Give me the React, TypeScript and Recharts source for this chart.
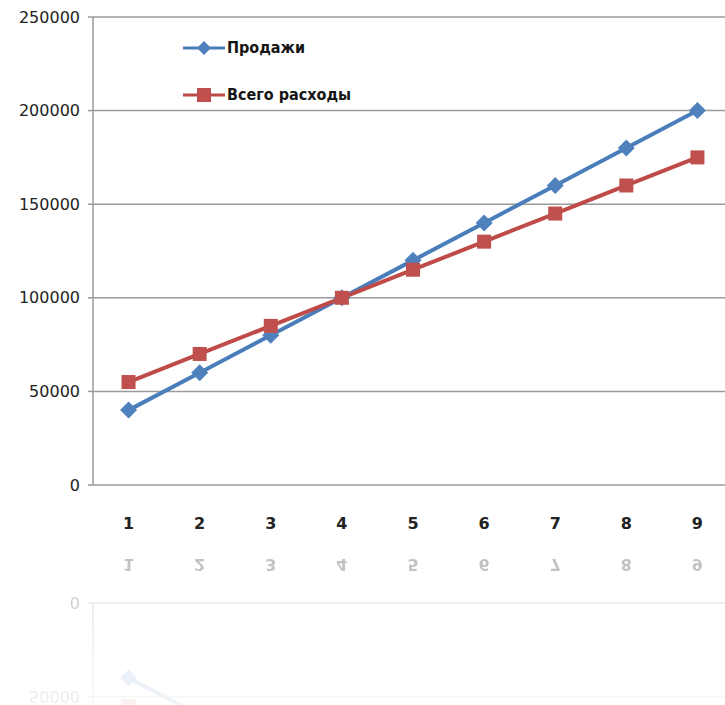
import React from "react";
import { LineChart, Line, XAxis, YAxis, CartesianGrid, Legend } from "recharts";

const categories = [1, 2, 3, 4, 5, 6, 7, 8, 9];
const salesValues = [40000, 60000, 80000, 100000, 120000, 140000, 160000, 180000, 200000];
const expenseValues = [55000, 70000, 85000, 100000, 115000, 130000, 145000, 160000, 175000];
const yTicks = [0, 50000, 100000, 150000, 200000, 250000];
const boundaryTicks = [0.5, 1.5, 2.5, 3.5, 4.5, 5.5, 6.5, 7.5, 8.5, 9.5];
const seriesNames = { sales: "Продажи", expenses: "Всего расходы" };
const legendOrder = ["sales", "expenses"];

const BLUE = "#4a7ebb";
const RED = "#be4b48";
const GRID = "#9a9a9a";

const data = categories.map((c, i) => ({
  x: c,
  sales: salesValues[i],
  expenses: expenseValues[i],
}));

const diamondPoints = (cx: number, cy: number, r: number) =>
  `${cx},${cy - r} ${cx + r},${cy} ${cx},${cy + r} ${cx - r},${cy}`;

const DiamondDot = (props: any) => {
  const { cx, cy, index } = props;
  if (cx == null || cy == null) return <g key={`dd-${index}`} />;
  return <polygon key={`dd-${index}`} points={diamondPoints(cx, cy, 8.5)} fill="#4f81bd" />;
};

const SquareDot = (props: any) => {
  const { cx, cy, index } = props;
  if (cx == null || cy == null) return <g key={`sd-${index}`} />;
  return <rect key={`sd-${index}`} x={cx - 7} y={cy - 7} width={14} height={14} fill="#c0504d" />;
};

const LegendContent = (props: any) => {
  const { payload } = props;
  if (!payload) return null;
  const items = legendOrder
    .map((k) => payload.find((p: any) => p.dataKey === k))
    .filter(Boolean);
  return (
    <div>
      {items.map((p: any) => (
        <div
          key={p.dataKey}
          style={{ display: "flex", alignItems: "center", height: 47 }}
        >
          <svg width={42} height={18} style={{ marginRight: 2 }}>
            <line x1={0} x2={42} y1={9} y2={9} stroke={p.color} strokeWidth={3} />
            {p.dataKey === "sales" ? (
              <polygon points={diamondPoints(21, 9, 7)} fill="#4f81bd" />
            ) : (
              <rect x={14} y={2} width={14} height={14} fill="#c0504d" />
            )}
          </svg>
          <span style={{ fontSize: 16, fontWeight: "bold", color: "#151515", fontFamily: "'DejaVu Sans Condensed', 'DejaVu Sans'" }}>
            {p.value}
          </span>
        </div>
      ))}
    </div>
  );
};

const Chart = () => (
  <LineChart
    width={745}
    height={545}
    data={data}
    margin={{ top: 17, right: 12, left: 0, bottom: 10 }}
  >
    <CartesianGrid xAxisId="mk" horizontal={true} vertical={false} stroke={GRID} strokeWidth={1.5} />
    <XAxis
      xAxisId="mk"
      type="number"
      dataKey="x"
      domain={[0.5, 9.5]}
      ticks={boundaryTicks}
      tick={false}
      tickSize={7}
      height={0}
      axisLine={{ stroke: GRID, strokeWidth: 1.5 }}
      tickLine={{ stroke: GRID, strokeWidth: 1.5 }}
      allowDataOverflow
    />
    <XAxis
      xAxisId="lbl"
      type="number"
      dataKey="x"
      domain={[0.5, 9.5]}
      ticks={categories}
      tickLine={false}
      axisLine={false}
      tickSize={7}
      tickMargin={26}
      height={50}
      tick={{ fill: "#222", fontSize: 16, fontWeight: "bold" }}
      allowDataOverflow
    />
    <YAxis
      width={93}
      domain={[0, 250000]}
      ticks={yTicks}
      tickSize={5}
      tickMargin={8}
      axisLine={{ stroke: GRID, strokeWidth: 1.5 }}
      tickLine={{ stroke: GRID, strokeWidth: 1.5 }}
      tick={{ fill: "#222", fontSize: 16 }}
      interval={0}
    />
    <Legend
      layout="horizontal"
      verticalAlign="middle"
      align="center"
      content={<LegendContent />}
      wrapperStyle={{ top: 24, left: 183, width: "auto" }}
    />
    <Line
      xAxisId="lbl"
      dataKey="sales"
      name={seriesNames.sales}
      stroke={BLUE}
      strokeWidth={4}
      dot={DiamondDot}
      activeDot={false}
      isAnimationActive={false}
    />
    <Line
      xAxisId="lbl"
      dataKey="expenses"
      name={seriesNames.expenses}
      stroke={RED}
      strokeWidth={4}
      dot={SquareDot}
      activeDot={false}
      isAnimationActive={false}
    />
  </LineChart>
);

export default function App() {
  return (
    <div
      style={{
        position: "absolute",
        left: 0,
        top: 0,
        width: 725,
        height: 705,
        overflow: "hidden",
        background: "#fff",
        fontFamily: "'DejaVu Sans', sans-serif",
      }}
    >
      <div style={{ position: "absolute", left: 0, top: 0 }}>
        <Chart />
      </div>
      <div
        style={{
          position: "absolute",
          left: 0,
          top: 544,
          width: 745,
          height: 161,
          overflow: "hidden",
          opacity: 0.3,
          WebkitMaskImage: "linear-gradient(to bottom, rgba(0,0,0,1) 0%, rgba(0,0,0,0.25) 100%)",
          maskImage: "linear-gradient(to bottom, rgba(0,0,0,1) 0%, rgba(0,0,0,0.25) 100%)",
        }}
      >
        <div
          style={{
            position: "absolute",
            left: 0,
            top: -544,
            transformOrigin: "0 544px",
            transform: "scaleY(-1)",
          }}
        >
          <Chart />
        </div>
      </div>
    </div>
  );
}
